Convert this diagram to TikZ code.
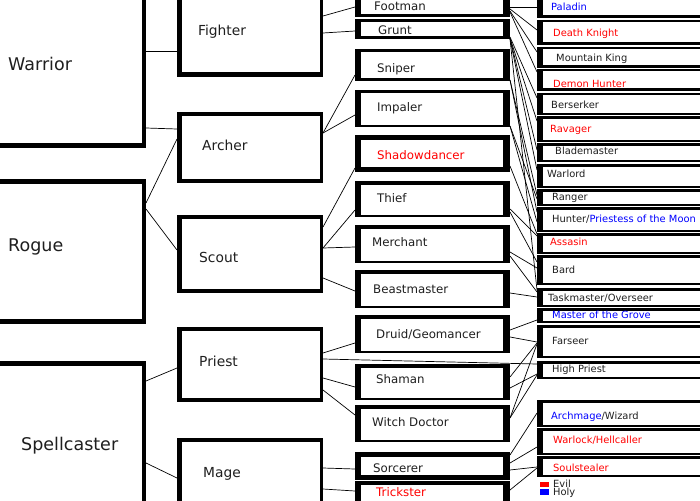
\documentclass[tikz,border=0pt]{standalone}
\usepackage{fontspec}
\setmainfont{DejaVu Sans}
\newcommand{\mybox}[6]{\node[#2, minimum width={(#5)-(#3)}, minimum height={(#6)-(#4)}] (#1) at ({((#3)+(#5))/2},{((#4)+(#6))/2}) {};}
\tikzset{
  frame/.style n args={4}{fill=black, inner sep=0pt, outer sep=0pt,
    path picture={\fill[white] ([xshift=#1pt,yshift=-#3pt]path picture bounding box.north west) rectangle ([xshift=-#2pt,yshift=#4pt]path picture bounding box.south east);}},
  c1/.style={frame={4}{4}{4.5}{5}},
  c2/.style={frame={5}{3.5}{4}{4.5}},
  c3/.style={frame={6}{7}{3.5}{2.5}},
  c3b/.style={frame={6}{7}{5}{5}},
  c4/.style={frame={6}{3}{2.5}{2.5}},
  txt/.style={anchor=base west, inner sep=0pt, text=black!88},
  t1/.style={txt, yshift=-6.4pt, font=\fontsize{17.5}{20}\selectfont},
  t2/.style={txt, yshift=-5pt, font=\fontsize{13.8}{16}\selectfont},
  t3/.style={txt, yshift=-4.3pt, font=\fontsize{11.8}{14}\selectfont},
  t4/.style={txt, yshift=-3.6pt, font=\fontsize{9.9}{12}\selectfont},
  ev/.style={text=red},
  ho/.style={text=blue},
  ln/.style={draw=black, line width=0.7pt},
  key/.style={inner sep=0pt, outer sep=0pt, minimum width=9, minimum height=5.5}
}
\begin{document}
\begin{tikzpicture}[x=1pt,y=-1pt]
\useasboundingbox (0,0) rectangle (700,500);
\fill[white] (0,0) rectangle (700,500);
% column 1
\mybox{warrior}{c1}{-20}{-20}{146}{148}
\mybox{rogue}{c1}{-20}{179}{146}{324}
\mybox{spell}{c1}{-20}{361}{146}{520}
% column 2
\mybox{fighter}{c2}{177}{-20}{323}{77}
\mybox{archer}{c2}{177}{112}{323}{183}
\mybox{scout}{c2}{177}{215}{323}{293}
\mybox{priest}{c2}{177}{327}{323}{402}
\mybox{mage}{c2}{177}{438}{323}{520}
% column 3
\mybox{footman}{c3}{355}{-20}{510}{17}
\mybox{grunt}{c3}{355}{19}{510}{39}
\mybox{sniper}{c3}{355}{49}{510}{81}
\mybox{impaler}{c3}{355}{90}{510}{127}
\mybox{shadow}{c3b}{355}{135}{510}{172}
\mybox{thief}{c3}{355}{181}{510}{217}
\mybox{merchant}{c3}{355}{225}{510}{263}
\mybox{beast}{c3}{355}{270}{510}{308}
\mybox{druid}{c3}{355}{315}{510}{353}
\mybox{shaman}{c3}{355}{364}{510}{400}
\mybox{witch}{c3}{355}{405}{510}{442}
\mybox{sorcerer}{c3b}{355}{452}{510}{480}
\mybox{trickster}{c3}{355}{481}{510}{520}
% column 4
\mybox{paladin}{c4}{537}{-20}{720}{18}
\mybox{dknight}{c4}{537}{20}{720}{45}
\mybox{mking}{c4}{537}{47}{720}{68}
\mybox{dhunter}{c4}{537}{69}{720}{91}
\mybox{berserker}{c4}{537}{93}{720}{115}
\mybox{ravager}{c4}{537}{116}{720}{142}
\mybox{blade}{c4}{537}{143}{720}{162}
\mybox{warlord}{c4}{537}{164}{720}{188}
\mybox{ranger}{c4}{537}{189}{720}{206}
\mybox{hunter}{c4}{537}{207}{720}{232}
\mybox{assasin}{c4}{537}{233}{720}{254}
\mybox{bard}{c4}{537}{255}{720}{285}
\mybox{task}{c4}{537}{288}{720}{307}
\mybox{grove}{c4}{537}{308}{720}{323}
\mybox{farseer}{c4}{537}{325}{720}{358}
\mybox{hpriest}{c4}{537}{361}{720}{379}
\mybox{archmage}{c4}{537}{400}{720}{427}
\mybox{warlock}{c4}{537}{428}{720}{455}
\mybox{soul}{c4}{537}{456}{720}{477}
% connectors column 1 -> 2
\draw[ln] (warrior.east |- 0,51) -- (fighter.west |- 0,51);
\draw[ln] (warrior.east |- 0,128) -- (archer.west |- 0,129);
\draw[ln] (rogue.east |- 0,203) -- (archer.west |- 0,139);
\draw[ln] (rogue.east |- 0,209) -- (scout.west |- 0,250);
\draw[ln] (spell.east |- 0,381) -- (priest.west |- 0,368);
\draw[ln] (spell.east |- 0,463) -- (mage.west |- 0,478);
% column 2 -> 3
\draw[ln] (fighter.east |- 0,16) -- (footman.west |- 0,7);
\draw[ln] (fighter.east |- 0,33) -- (grunt.west |- 0,31);
\draw[ln] (archer.east |- 0,133) -- (sniper.west |- 0,75);
\draw[ln] (archer.east |- 0,133) -- (impaler.west |- 0,115);
\draw[ln] (scout.east |- 0,227) -- (shadow.west |- 0,168);
\draw[ln] (scout.east |- 0,248) -- (thief.west |- 0,210);
\draw[ln] (scout.east |- 0,248) -- (merchant.west |- 0,247);
\draw[ln] (scout.east |- 0,278) -- (beast.west |- 0,291);
\draw[ln] (priest.east |- 0,353) -- (druid.west |- 0,343);
\draw[ln] (priest.east |- 0,359) -- (hpriest.west |- 0,364);
\draw[ln] (priest.east |- 0,378) -- (shaman.west |- 0,387);
\draw[ln] (priest.east |- 0,390) -- (witch.west |- 0,415);
\draw[ln] (mage.east |- 0,468) -- (sorcerer.west |- 0,469);
\draw[ln] (mage.east |- 0,489) -- (trickster.west |- 0,491);
% column 3 -> 4
\draw[ln] (footman.east |- 0,7) -- (paladin.west |- 0,7);
\draw[ln] (footman.east |- 0,9) -- (dknight.west |- 0,30);
\draw[ln] (footman.east |- 0,11) -- (mking.west |- 0,52);
\draw[ln] (footman.east |- 0,12) -- (dhunter.west |- 0,72);
\draw[ln] (grunt.east |- 0,37) -- (berserker.west |- 0,98);
\draw[ln] (grunt.east |- 0,38) -- (ravager.west |- 0,121);
\draw[ln] (grunt.east |- 0,38) -- (blade.west |- 0,150);
\draw[ln] (grunt.east |- 0,39) -- (warlord.west |- 0,170);
\draw[ln] (grunt.east |- 0,39) -- (task.west |- 0,290);
\draw[ln] (sniper.east |- 0,80) -- (ranger.west |- 0,195);
\draw[ln] (sniper.east |- 0,80) -- (hunter.west |- 0,212);
\draw[ln] (impaler.east |- 0,126) -- (ranger.west |- 0,199);
\draw[ln] (impaler.east |- 0,126) -- (hunter.west |- 0,222);
\draw[ln] (shadow.east |- 0,166) -- (assasin.west |- 0,234);
\draw[ln] (thief.east |- 0,209) -- (assasin.west |- 0,236);
\draw[ln] (thief.east |- 0,212) -- (bard.west |- 0,262);
\draw[ln] (merchant.east |- 0,252) -- (bard.west |- 0,268);
\draw[ln] (merchant.east |- 0,256) -- (task.west |- 0,292);
\draw[ln] (beast.east |- 0,293) -- (task.west |- 0,297);
\draw[ln] (druid.east |- 0,330) -- (grove.west |- 0,320);
\draw[ln] (druid.east |- 0,337) -- (farseer.west |- 0,342);
\draw[ln] (shaman.east |- 0,377) -- (farseer.west |- 0,343);
\draw[ln] (shaman.east |- 0,388) -- (hpriest.west |- 0,374);
\draw[ln] (witch.east |- 0,418) -- (farseer.west |- 0,344);
\draw[ln] (witch.east |- 0,418) -- (hpriest.west |- 0,375);
\draw[ln] (sorcerer.east |- 0,455) -- (archmage.west |- 0,413);
\draw[ln] (sorcerer.east |- 0,463) -- (warlock.west |- 0,447);
\draw[ln] (sorcerer.east |- 0,470) -- (soul.west |- 0,467);
\draw[ln] (trickster.east |- 0,490) -- (soul.west |- 0,468);
% labels column 1
\node[t1] (warriorT) at (8,64) {Warrior};
\node[t1] (rogueT) at (8,245) {Rogue};
\node[t1] (spellT) at (21,444) {Spellcaster};
% labels column 2
\node[t2] (fighterT) at (198,31) {Fighter};
\node[t2] (archerT) at (202,145) {Archer};
\node[t2] (scoutT) at (199,257) {Scout};
\node[t2] (priestT) at (199,361) {Priest};
\node[t2] (mageT) at (203,472) {Mage};
% labels column 3
\node[t3] (footmanT) at (374,6) {Footman};
\node[t3] (gruntT) at (378,30) {Grunt};
\node[t3] (sniperT) at (377,68) {Sniper};
\node[t3] (impalerT) at (377,107) {Impaler};
\node[t3,ev] (shadowT) at (377,155) {Shadowdancer};
\node[t3] (thiefT) at (377,198) {Thief};
\node[t3] (merchantT) at (372,242) {Merchant};
\node[t3] (beastT) at (373,289) {Beastmaster};
\node[t3] (druidT) at (376,334) {Druid/Geomancer};
\node[t3] (shamanT) at (376,379) {Shaman};
\node[t3] (witchT) at (372,422) {Witch Doctor};
\node[t3] (sorcererT) at (373,468) {Sorcerer};
\node[t3,ev] (tricksterT) at (376,492) {Trickster};
% labels column 4
\node[t4,ho] (paladinT) at (551,7) {Paladin};
\node[t4,ev] (dknightT) at (553,33) {Death Knight};
\node[t4] (mkingT) at (556,58) {Mountain King};
\node[t4,ev] (dhunterT) at (553,84) {Demon Hunter};
\node[t4] (berserkerT) at (551,105) {Berserker};
\node[t4,ev] (ravagerT) at (550,129) {Ravager};
\node[t4] (bladeT) at (555,151) {Blademaster};
\node[t4] (warlordT) at (547,174) {Warlord};
\node[t4] (rangerT) at (552,197) {Ranger};
\node[t4] (hunterT) at (552,219) {Hunter/\textcolor{blue}{Priestess of the Moon}};
\node[t4,ev] (assasinT) at (550,242) {Assasin};
\node[t4] (bardT) at (552,270) {Bard};
\node[t4] (taskT) at (548,298) {Taskmaster/Overseer};
\node[t4,ho] (groveT) at (552,315) {Master of the Grove};
\node[t4] (farseerT) at (552,341) {Farseer};
\node[t4] (hpriestT) at (552,369) {High Priest};
\node[t4] (archmageT) at (551,416) {\textcolor{blue}{Archmage}/Wizard};
\node[t4,ev] (warlockT) at (553,440) {Warlock/Hellcaller};
\node[t4,ev] (soulT) at (553,468) {Soulstealer};
% legend
\node[key, fill=red] (evilkey) at (544.5,484.5) {};
\node[key, fill=blue] (holykey) at (544.5,492) {};
\node[t4] (evilT) at (553,483.5) {Evil};
\node[t4] (holyT) at (553,492) {Holy};
\end{tikzpicture}
\end{document}
